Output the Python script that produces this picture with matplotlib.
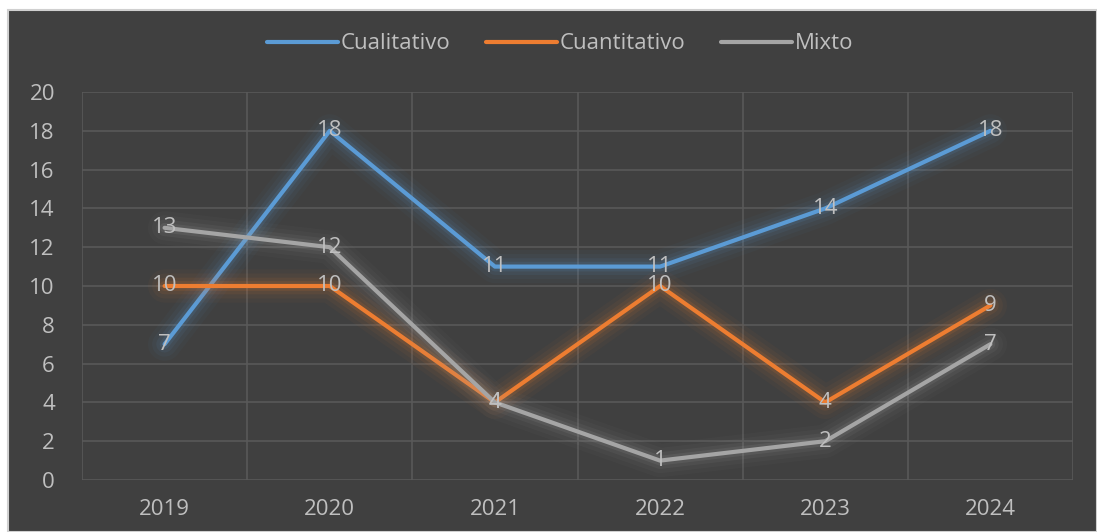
import matplotlib
matplotlib.use("Agg")
import matplotlib.pyplot as plt
import matplotlib.patheffects as pe
from matplotlib.patches import Rectangle
from matplotlib.ticker import MultipleLocator, FixedLocator

years = ["2019", "2020", "2021", "2022", "2023", "2024"]
cualitativo = [7, 18, 11, 11, 14, 18]
cuantitativo = [10, 10, 4, 10, 4, 9]
mixto = [13, 12, 4, 1, 2, 7]

series = [
    ("Cualitativo", cualitativo, "#5B9BD5"),
    ("Cuantitativo", cuantitativo, "#ED7D31"),
    ("Mixto", mixto, "#A5A5A5"),
]

plt.rcParams['font.family'] = ['Open Sans', 'DejaVu Sans']
txt = "#BFBFBF"
bg = "#404040"
grid = "#595959"
fs = 16

fig = plt.figure(figsize=(10.97, 5.32), dpi=100)
fig.patch.set_facecolor("white")
fig.patches.append(Rectangle((8 / 1097, 0), 1 - 8 / 1097, 1 - 10 / 532,
                             transform=fig.transFigure, facecolor=bg,
                             edgecolor="#D0D0D0", linewidth=1.5, zorder=-10))

ax = fig.add_axes([82 / 1097, 1 - 480 / 532, (1073 - 82) / 1097, (480 - 92) / 532])
ax.set_facecolor("none")
ax.set_zorder(1)

x = list(range(len(years)))
handles = []
for name, vals, col in series:
    glow = [pe.Stroke(linewidth=24, foreground=col, alpha=0.035),
            pe.Stroke(linewidth=18, foreground=col, alpha=0.05),
            pe.Stroke(linewidth=12, foreground=col, alpha=0.08),
            pe.Stroke(linewidth=7, foreground=col, alpha=0.12),
            pe.Normal()]
    ax.plot(x, vals, color=col, linewidth=3, label=name,
            solid_capstyle="round", path_effects=glow, zorder=3)
    handles.append(plt.Line2D([], [], color=col, linewidth=3, solid_capstyle="round"))
    for xi, v in zip(x, vals):
        ax.text(xi, v, str(v), ha="center", va="center", color=txt,
                fontsize=fs, zorder=5)

ax.set_xlim(-0.5, len(years) - 0.5)
ax.set_ylim(0, 20)
ax.yaxis.set_major_locator(MultipleLocator(2))
ax.set_xticks(x)
ax.set_xticklabels(years)
ax.xaxis.set_minor_locator(FixedLocator([i - 0.5 for i in range(len(years) + 1)]))
ax.grid(axis="y", which="major", color=grid, linewidth=1.2, zorder=1)
ax.grid(axis="x", which="minor", color=grid, linewidth=1.2, zorder=1)
ax.tick_params(axis="both", which="both", length=0, colors=txt, labelsize=fs)
ax.tick_params(axis="y", pad=19.5)
ax.tick_params(axis="x", pad=14)
for s in ax.spines.values():
    s.set_visible(False)

leg = fig.legend(handles, [s[0] for s in series], loc="center",
                 bbox_to_anchor=(560 / 1097, 1 - 44 / 532), ncol=3,
                 frameon=False, fontsize=fs, handlelength=3.2,
                 handletextpad=0.12, columnspacing=1.6)
for t in leg.get_texts():
    t.set_color(txt)

fig.savefig("out.png", dpi=100, facecolor=fig.get_facecolor())
